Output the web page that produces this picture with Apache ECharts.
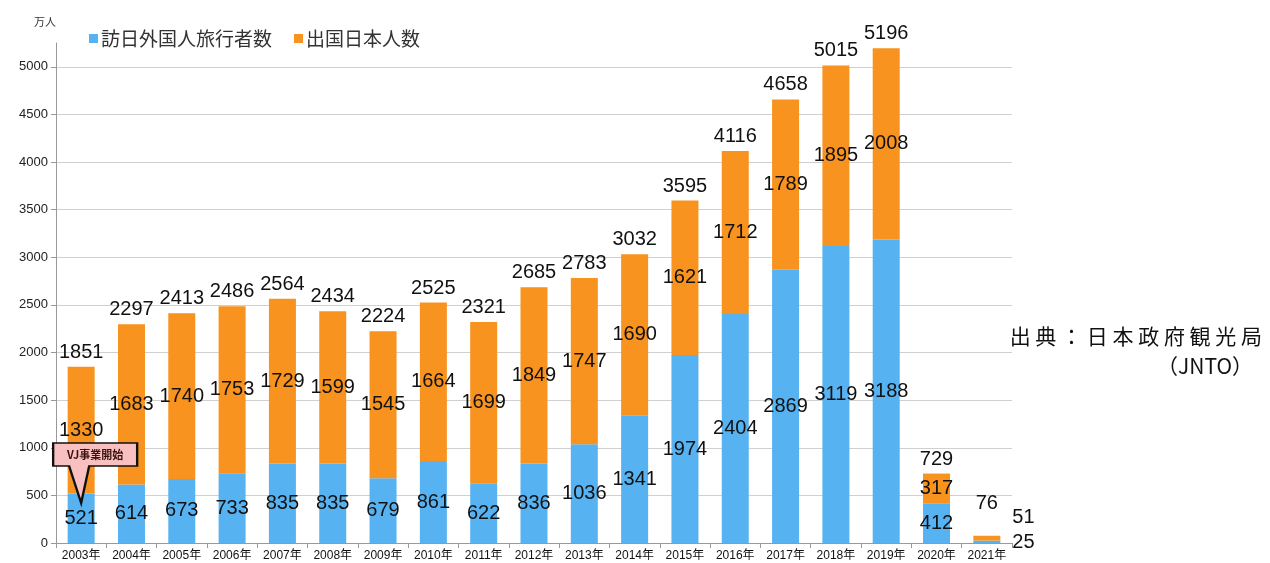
<!DOCTYPE html>
<html>
<head>
<meta charset="utf-8">
<script src="https://cdn.jsdelivr.net/npm/echarts@6/dist/echarts.min.js"></script>
<style>
  html, body { margin: 0; padding: 0; background: #fff; }
  #chart1 { width: 1270px; height: 563px; }
</style>
</head>
<body>
<div id="chart1"></div>
<script>
var years = ["2003年", "2004年", "2005年", "2006年", "2007年", "2008年", "2009年", "2010年", "2011年", "2012年",
  "2013年", "2014年", "2015年", "2016年", "2017年", "2018年", "2019年", "2020年", "2021年"];
// 訪日外国人旅行者数（万人）
var inbound = [521, 614, 673, 733, 835, 835, 679, 861, 622, 836, 1036, 1341, 1974, 2404, 2869, 3119, 3188, 412, 25];
// 出国日本人数（万人）
var outbound = [1330, 1683, 1740, 1753, 1729, 1599, 1545, 1664, 1699, 1849, 1747, 1690, 1621, 1712, 1789, 1895, 2008, 317, 51];
// 合計（元の図の表記のまま）
var totals = [1851, 2297, 2413, 2486, 2564, 2434, 2224, 2525, 2321, 2685, 2783, 3032, 3595, 4116, 4658, 5015, 5196, 729, 76];

var blue = "#57b2f2";
var orange = "#f7931e";
var lblFont = { fontFamily: "Liberation Sans, Arial", fontSize: 20, color: "#111" };

var chart1 = echarts.init(document.getElementById("chart1"));

var inboundData = inbound.map(function (v, i) {
  if (i == inbound.length - 1) {
    return { value: v, label: { position: "right", distance: 12, offset: [0, 1] } };
  }
  return v;
});
var outboundData = outbound.map(function (v, i) {
  if (i == outbound.length - 1) {
    return { value: v, label: { position: "right", distance: 12, offset: [0, -21] } };
  }
  return v;
});
var totalData = totals.map(function (v, i) {
  if (i == totals.length - 1) {
    return { value: v, label: { offset: [0, -18] } };
  }
  return v;
});

var srcFont = { fontFamily: "Noto Sans CJK JP", fontSize: 21, fontWeight: "normal", color: "#111" };

var option = {
  animation: false,
  textStyle: { fontFamily: "Liberation Sans, Arial, Noto Sans CJK JP" },
  title: [
    { text: "出 典 ： 日 本 政 府 観 光 局", right: 3, top: 321, textStyle: srcFont },
    { text: "（JNTO）", right: 12, top: 351, textStyle: srcFont }
  ],
  legend: {
    left: 84,
    top: 24,
    itemWidth: 9,
    itemHeight: 9,
    itemGap: 22,
    icon: "rect",
    textStyle: { fontFamily: "Noto Sans CJK JP", fontSize: 19, color: "#333", padding: [0, 0, 0, -2] },
    data: ["訪日外国人旅行者数", "出国日本人数"]
  },
  grid: {
    left: 56,
    right: 258,
    top: 43,
    bottom: 20
  },
  xAxis: {
    type: "category",
    data: years,
    boundaryGap: true,
    axisLine: { lineStyle: { color: "#999" } },
    axisTick: { show: true, length: 5, lineStyle: { color: "#999" } },
    axisLabel: { fontSize: 12, color: "#111", margin: 7, interval: 0, fontFamily: "Liberation Sans, Noto Sans CJK JP" }
  },
  yAxis: {
    type: "value",
    min: 0,
    max: 5250,
    interval: 500,
    name: "万人",
    nameLocation: "end",
    nameGap: 16,
    nameTextStyle: { fontSize: 11, color: "#333", align: "right", fontFamily: "Noto Sans CJK JP" },
    axisLine: { show: true, lineStyle: { color: "#999" } },
    axisTick: { show: true, length: 5, lineStyle: { color: "#999" } },
    axisLabel: {
      fontSize: 13,
      color: "#222",
      margin: 8,
      showMaxLabel: false,
      formatter: function (value) {
        return String(value);
      }
    },
    splitLine: { show: true, showMaxLine: false, lineStyle: { color: "#d0d0d0" } }
  },
  series: [
    {
      name: "訪日外国人旅行者数",
      type: "bar",
      stack: "total",
      barWidth: 27,
      data: inboundData,
      itemStyle: { color: blue },
      label: Object.assign({ show: true, position: "inside" }, lblFont),
      markPoint: {
        silent: true,
        data: [
          {
            coord: ["2003年", 420],
            symbol: "path://M0 0 H84 V23 H36 L28 60 L16 23 H0 Z",
            symbolSize: [84, 60],
            symbolKeepAspect: false,
            symbolOffset: [14, -30],
            itemStyle: { color: "#f9c0c2", borderColor: "#111", borderWidth: 2 },
            label: {
              show: true,
              formatter: "VJ事業開始",
              position: "inside",
              offset: [0, -18],
              fontFamily: "Noto Sans CJK JP",
              fontSize: 11,
              fontWeight: "bold",
              color: "#3a1010"
            }
          }
        ]
      }
    },
    {
      name: "出国日本人数",
      type: "bar",
      stack: "total",
      barWidth: 27,
      data: outboundData,
      itemStyle: { color: orange },
      label: Object.assign({ show: true, position: "inside" }, lblFont)
    },
    {
      name: "合計",
      type: "line",
      data: totalData,
      symbol: "circle",
      symbolSize: 1,
      showSymbol: true,
      itemStyle: { color: "rgba(0,0,0,0)" },
      lineStyle: { width: 0, opacity: 0 },
      silent: true,
      z: 5,
      label: Object.assign({ show: true, position: "top", distance: 4 }, lblFont)
    }
  ]
};

chart1.setOption(option);
window.addEventListener("resize", function () {
  chart1.resize();
});
</script>
</body>
</html>
